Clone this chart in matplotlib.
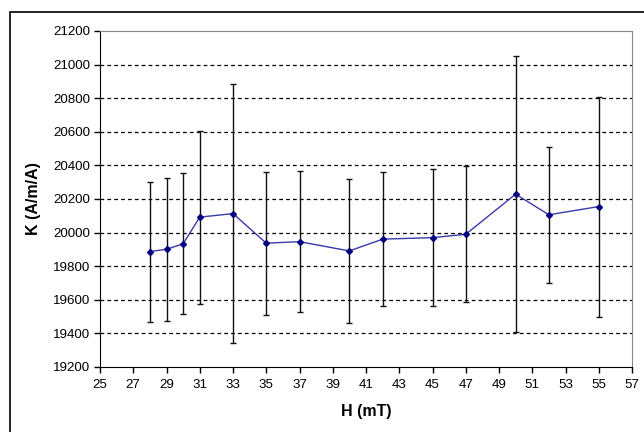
import matplotlib
matplotlib.use("Agg")
import matplotlib.pyplot as plt
from matplotlib.patches import Rectangle

plt.rcParams['font.family'] = ['Liberation Sans', 'DejaVu Sans']

H = [28, 29, 30, 31, 33, 35, 37, 40, 42, 45, 47, 50, 52, 55]
K = [19887, 19901, 19933, 20092, 20113, 19937, 19946, 19891, 19961, 19970, 19990, 20229, 20106, 20155]
K_err = [417, 425, 420, 515, 770, 425, 420, 428, 400, 408, 405, 822, 405, 655]

x_ticks = list(range(25, 58, 2))
y_ticks = list(range(19200, 21201, 200))

fig = plt.figure(figsize=(6.44, 4.32), dpi=100)
ax = fig.add_axes([100/644, 1 - 367/432, 532/644, 336/432])

ax.errorbar(H, K, yerr=K_err, fmt='none', ecolor='#111111', elinewidth=1.0,
            capsize=2, capthick=1.0, zorder=2)
ax.plot(H, K, color='#3a3aa8', lw=1.0, marker='D', markersize=3,
        markerfacecolor='#000080', markeredgecolor='#000080', zorder=3)

ax.set_xlim(25, 57)
ax.set_ylim(19200, 21200)
ax.set_xticks(x_ticks)
ax.set_yticks(y_ticks)
ax.tick_params(direction='out', length=4, width=1, labelsize=9.6, colors='black')
ax.tick_params(axis='y', pad=3)
ax.tick_params(axis='x', pad=5)
for y in y_ticks[1:-1]:
    ax.axhline(y, color='black', lw=0.9, ls=(0, (3, 2.5)), zorder=1)

ax.spines['left'].set_color('black')
ax.spines['bottom'].set_color('black')
ax.spines['top'].set_color('#888888')
ax.spines['right'].set_color('#888888')

ax.set_xlabel('H (mT)', fontsize=11.5, fontweight='bold', labelpad=9)
ax.set_ylabel('K (A/m/A)', fontsize=11.5, fontweight='bold', labelpad=9)

fig.patches.append(Rectangle((10/644, -0.1), 1.2, 1 - 12/432 + 0.1,
                             transform=fig.transFigure, fill=False,
                             edgecolor='black', lw=1.2))

fig.savefig('out.png', dpi=100)
